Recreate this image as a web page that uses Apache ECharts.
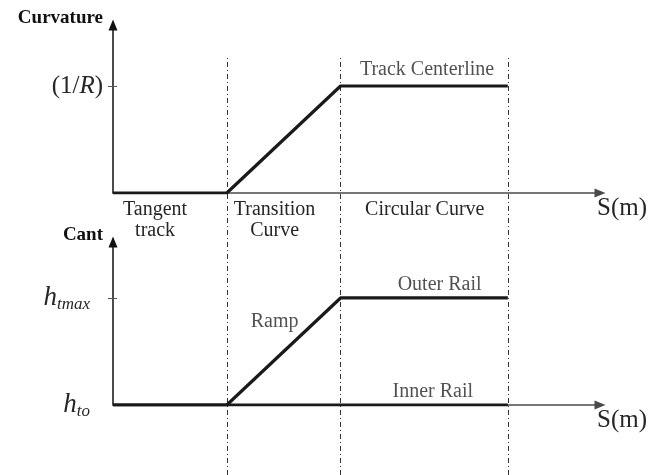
<!DOCTYPE html>
<html>
<head>
<meta charset="utf-8">
<script src="https://cdn.jsdelivr.net/npm/echarts@6/dist/echarts.min.js"></script>
<style>
  html, body { margin: 0; padding: 0; background: #fff; }
  #chart { width: 654px; height: 475px; }
</style>
</head>
<body>
<div id="chart"></div>
<script>
// Chainage (m) at the end of each section: tangent | transition | circular
const sectionBounds = [100, 200, 347];
const sectionNames = ['Tangent\ntrack', 'Transition\nCurve', 'Circular Curve'];
const sectionLabelAt = [37, 142, 274];

// Curvature of the track centreline (in units of 1/R)
const curvatureS = [0, 100, 200, 347];
const curvature = [0, 0, 1, 1];

// Cant of each rail (0 = h_to, 1 = h_tmax)
const outerRailS = [0, 100, 200, 347];
const outerRail = [0, 0, 1, 1];
const innerRailS = [0, 347];
const innerRail = [0, 0];

// Tick labels on the vertical axes
const curvatureTicks = [1];
const cantTicks = [0, 1];
const cantTickSub = ['to', 'tmax'];

// Text notes anchored in data space
const curvatureNoteText = ['Track Centerline'];
const curvatureNoteS = [276];
const curvatureNoteV = [1];
const railNoteText = ['Outer Rail', 'Inner Rail'];
const railNoteS = [287, 281];
const railNoteV = [1, 0];
const rampNoteText = ['Ramp'];
const rampNoteS = [142];
const rampNoteV = [0.78];

const SERIF = '"Liberation Serif", "Times New Roman", serif';
const INK = '#262626';
const S_MAX = 428;

const pairs = (xs, ys) => ys.map((y, i) => [xs[i], y]);

const xAxisBase = {
  type: 'value', min: 0, max: S_MAX,
  axisLine: { symbol: ['none', 'triangle'], symbolSize: [9, 11],
              lineStyle: { color: '#4a4a4a', width: 1.5 } },
  axisTick: { show: false },
  splitLine: { show: false },
  name: 'S(m)', nameLocation: 'end', nameGap: -3,
  nameTextStyle: { fontFamily: SERIF, fontSize: 25, color: INK,
                   align: 'left', verticalAlign: 'top', lineHeight: 25,
                   padding: [3, 0, 0, 0] }
};

function yAxisMain(grid, max, name, ticks, label) {
  return {
    gridIndex: grid, type: 'value', min: 0, max: max, position: 'left',
    axisLine: { show: true, symbol: ['none', 'triangle'], symbolSize: [9, 11],
                lineStyle: { color: '#111', width: 1.5 } },
    splitLine: { show: false },
    axisTick: { show: true, length: 5, customValues: ticks.filter(v => v !== 0),
                lineStyle: { color: '#555', width: 1 } },
    axisLabel: Object.assign({ customValues: ticks }, label),
    name: name, nameLocation: 'end', nameGap: 7,
    nameTextStyle: { fontFamily: SERIF, fontWeight: 'bold', fontSize: 19, color: '#111',
                     align: 'right', verticalAlign: 'middle', padding: [0, 10, 0, 0] }
  };
}

// A second, label-less axis that draws the inner half of each tick mark
function yAxisInnerTick(grid, max, ticks) {
  return {
    gridIndex: grid, type: 'value', min: 0, max: max, position: 'left', offset: 0,
    axisLine: { show: false }, splitLine: { show: false }, axisLabel: { show: false },
    axisTick: { show: true, inside: true, length: 4, customValues: ticks.filter(v => v !== 0),
                lineStyle: { color: '#555', width: 1 } }
  };
}

const chart = echarts.init(document.getElementById('chart'), null, { renderer: 'canvas' });

chart.setOption({
  animation: false,
  backgroundColor: '#fff',
  grid: [
    { left: 113, right: 54, top: 25, bottom: 282 },
    { left: 113, right: 54, top: 242, bottom: 70 },
    { left: 113, right: 54, top: 55, bottom: 0 }
  ],
  xAxis: [
    Object.assign({}, xAxisBase, {
      gridIndex: 0,
      axisLabel: {
        customValues: sectionLabelAt,
        formatter: v => sectionNames[sectionLabelAt.indexOf(v)],
        fontFamily: SERIF, fontSize: 20, lineHeight: 21, color: INK,
        margin: 6, verticalAlign: 'top'
      }
    }),
    Object.assign({}, xAxisBase, { gridIndex: 1, axisLabel: { show: false } }),
    { gridIndex: 2, type: 'value', min: 0, max: S_MAX, show: false }
  ],
  yAxis: [
    yAxisMain(0, 1.57, 'Curvature', curvatureTicks, {
      margin: 10, color: INK,
      formatter: () => '{p|(1/}{i|R}{p|)}',
      rich: {
        p: { fontFamily: SERIF, fontSize: 25, color: INK },
        i: { fontFamily: SERIF, fontSize: 25, fontStyle: 'italic', color: INK }
      }
    }),
    yAxisInnerTick(0, 1.57, curvatureTicks),
    yAxisMain(1, 1.523, 'Cant', cantTicks, {
      margin: 23, color: INK,
      formatter: v => '{h|h}{s|' + cantTickSub[cantTicks.indexOf(v)] + '}',
      rich: {
        h: { fontFamily: SERIF, fontSize: 27, fontStyle: 'italic', color: INK, lineHeight: 30 },
        s: { fontFamily: SERIF, fontSize: 17, fontStyle: 'italic', color: INK, lineHeight: 14,
             verticalAlign: 'bottom' }
      }
    }),
    yAxisInnerTick(1, 1.523, cantTicks),
    { gridIndex: 2, type: 'value', min: 0, max: 1, show: false }
  ],
  series: [
    {
      name: 'Section bounds', type: 'line', xAxisIndex: 2, yAxisIndex: 4, data: [],
      markLine: {
        silent: true, symbol: 'none', label: { show: false },
        lineStyle: { type: [5, 3, 1, 3], color: '#333', width: 1 },
        data: sectionBounds.map(v => ({ xAxis: v }))
      }
    },
    {
      name: 'Curvature', type: 'line', xAxisIndex: 0, yAxisIndex: 0,
      data: pairs(curvatureS, curvature), symbol: 'none', z: 5,
      lineStyle: { color: '#1a1a1a', width: 3.2 }
    },
    {
      name: 'Outer Rail', type: 'line', xAxisIndex: 1, yAxisIndex: 2,
      data: pairs(outerRailS, outerRail), symbol: 'none', z: 5,
      lineStyle: { color: '#1a1a1a', width: 3.2 }
    },
    {
      name: 'Inner Rail', type: 'line', xAxisIndex: 1, yAxisIndex: 2,
      data: pairs(innerRailS, innerRail), symbol: 'none', z: 5,
      lineStyle: { color: '#1a1a1a', width: 3.2 }
    },
    {
      name: 'Curvature notes', type: 'scatter', xAxisIndex: 0, yAxisIndex: 0, clip: false,
      symbolSize: 1, itemStyle: { color: 'rgba(0,0,0,0)' }, silent: true,
      data: curvatureNoteText.map((t, i) => ({ value: [curvatureNoteS[i], curvatureNoteV[i]], name: t })),
      label: { show: true, position: 'top', distance: 6, formatter: p => p.name,
               fontFamily: SERIF, fontSize: 20, lineHeight: 20, color: INK }
    },
    {
      name: 'Rail notes', type: 'scatter', xAxisIndex: 1, yAxisIndex: 2, clip: false,
      symbolSize: 1, itemStyle: { color: 'rgba(0,0,0,0)' }, silent: true,
      data: railNoteText.map((t, i) => ({ value: [railNoteS[i], railNoteV[i]], name: t })),
      label: { show: true, position: 'top', distance: 3, formatter: p => p.name,
               fontFamily: SERIF, fontSize: 20, lineHeight: 20, color: INK }
    },
    {
      name: 'Ramp note', type: 'scatter', xAxisIndex: 1, yAxisIndex: 2, clip: false,
      symbolSize: 1, itemStyle: { color: 'rgba(0,0,0,0)' }, silent: true,
      data: rampNoteText.map((t, i) => ({ value: [rampNoteS[i], rampNoteV[i]], name: t })),
      label: { show: true, position: 'inside', formatter: p => p.name,
               fontFamily: SERIF, fontSize: 20, lineHeight: 20, color: INK }
    }
  ]
});
</script>
</body>
</html>
